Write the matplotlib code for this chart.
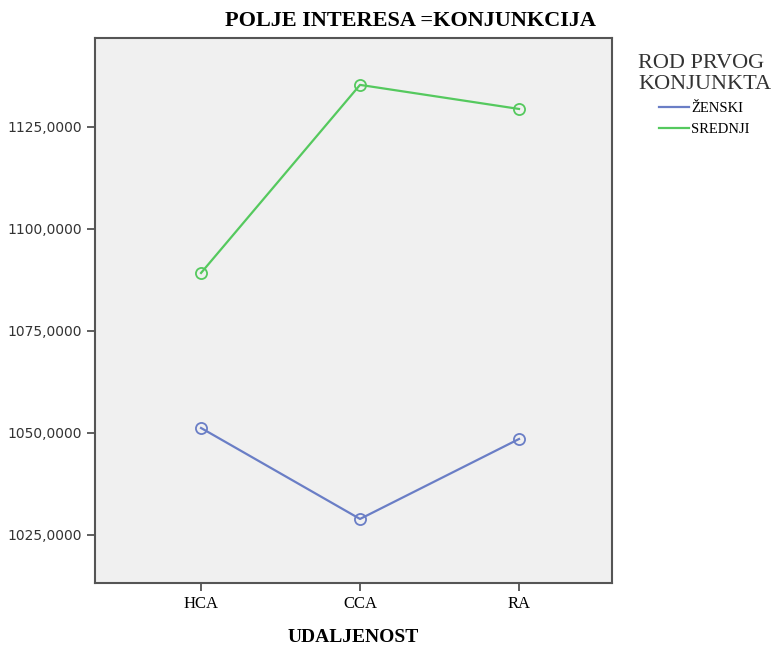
import matplotlib.pyplot as plt

groups = ['HCA', 'CCA', 'RA']
zenski = [1051.2, 1028.9, 1048.5]
srednji = [1089.2, 1135.3, 1129.4]

fig = plt.figure(figsize=(7.71, 6.48), dpi=100)
ax = fig.add_axes([0.1232, 0.1003, 0.6706, 0.8411])
ax.set_facecolor('#f0f0f0')

x = range(len(groups))
# lines carry the legend, markers drawn separately
ax.plot(x, zenski, color='#6a7ec6', lw=1.6, label='ŽENSKI')
ax.plot(x, srednji, color='#55c95e', lw=1.6, label='SREDNJI')
ax.plot(x, zenski, ls='', marker='o', markersize=8, color='#6a7ec6',
        markerfacecolor='none', markeredgewidth=1.3)
ax.plot(x, srednji, ls='', marker='o', markersize=8, color='#55c95e',
        markerfacecolor='none', markeredgewidth=1.3)

ax.set_xlim(-0.667, 2.585)
ax.set_ylim(1013.2, 1146.8)
ax.set_xticks(list(x))
ax.set_xticklabels(groups, fontfamily='Liberation Serif', fontsize=12)
yt = [1025, 1050, 1075, 1100, 1125]
ax.set_yticks(yt)
ax.set_yticklabels([f'{v},0000' for v in yt], fontsize=10, color='#333333')
ax.tick_params(length=6, width=1.2, color='#444444')
for s in ax.spines.values():
    s.set_color('#555555')
    s.set_linewidth(1.5)

fig.text(0.532, 0.968, 'POLJE INTERESA =KONJUNKCIJA', ha='center', va='center',
         fontfamily='Liberation Serif', fontweight='bold', fontsize=16)
ax.set_xlabel('UDALJENOST', fontfamily='Liberation Serif', fontweight='bold',
              fontsize=14, labelpad=12)

leg = ax.legend(title='ROD PRVOG\nKONJUNKTA', loc='upper left',
                bbox_to_anchor=(1.025, 0.995), frameon=False,
                prop={'family': 'Liberation Serif', 'size': 10.5},
                handlelength=2.0, handletextpad=0.2, labelspacing=0.55)
leg.get_title().set_fontfamily('Liberation Serif')
leg.get_title().set_fontsize(16)
leg.get_title().set_color('#333333')
leg.get_title().set_linespacing(1.15)

fig.savefig('out.png', dpi=100)
